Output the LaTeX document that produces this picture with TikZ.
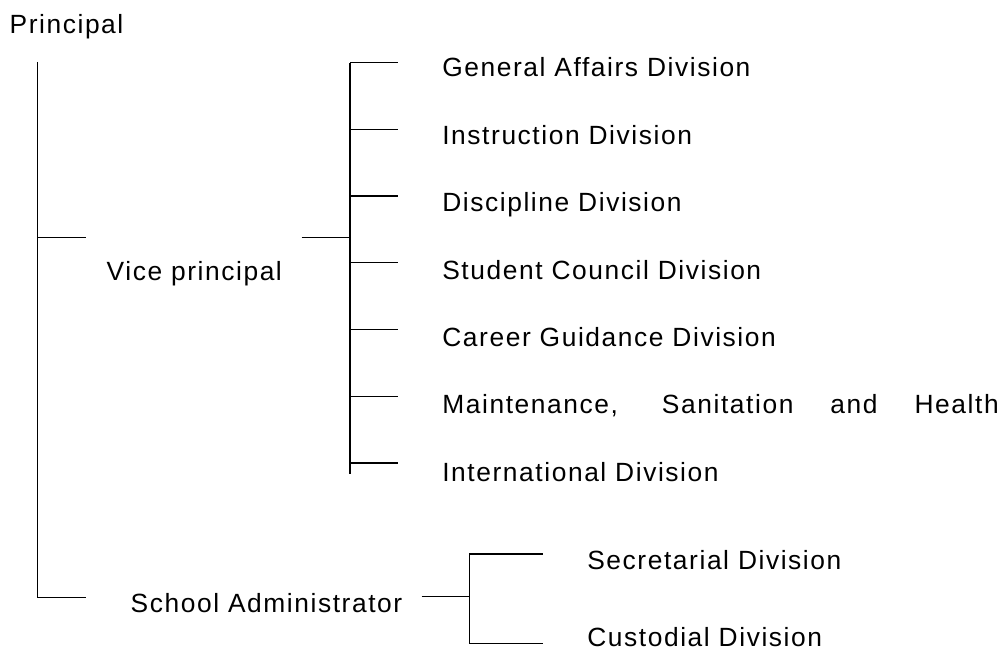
\documentclass[tikz,border=0pt]{standalone}
\usepackage{fontspec}
\setmainfont{Liberation Sans}[LetterSpace=6]

\begin{document}
\begin{tikzpicture}[x=0.02cm,y=-0.02cm,line width=0.75pt,
        every node/.style={anchor=base west,inner sep=0pt,font=\fontsize{15}{18}\selectfont},
        spine/.style={line width=1.1pt}]
        \useasboundingbox (0,0) rectangle (1005,661);

        \node at (9,33.3) (P) {Principal};
        \node at (106,281) (VP) {Vice principal};
        \node at (130,612.7) (SA) {School Administrator};

        % divisions under the vice principal
        \foreach \i/\t in {0/General Affairs Division,1/Instruction Division,
            2/Discipline Division,3/Student Council Division,
            4/Career Guidance Division,
            5/{\makebox[11.13cm][s]{Maintenance, Sanitation and Health}},
            6/International Division}{
          \node at (441.7,77+67.4*\i) (D\i) {\t};
          \coordinate (J\i) at (350,62.7+66.7*\i);
          \draw (J\i) -- ++(48,0);
        }

        \node at (586.7,570) (SD) {Secretarial Division};
        \node at (586.7,647) (CD) {Custodial Division};

        % principal line
        \coordinate (Ptop) at (37.3,62);
        \coordinate (Pvp) at (37.3,237.7);
        \coordinate (Psa) at (37.3,597.7);
        \draw (Ptop) -- (Psa) -- ++(48.7,0);
        \draw (Pvp) -- ++(48.7,0);

        % vice principal bracket
        \coordinate (VPin) at (301.7,237.7);
        \coordinate (VPj) at (350,237.7);
        \draw (VPin) -- (VPj);
        \draw[spine] (J0) -- (350,474);

        % administrator bracket
        \coordinate (SAin) at (421.7,596.7);
        \coordinate (SAj) at (469.3,596.7);
        \coordinate (Stop) at (469.3,554);
        \coordinate (Sbot) at (469.3,643.3);
        \draw (SAin) -- (SAj);
        \draw (542.7,554) -- (Stop) -- (Sbot) -- (542.7,643.3);

      \end{tikzpicture}
\end{document}
